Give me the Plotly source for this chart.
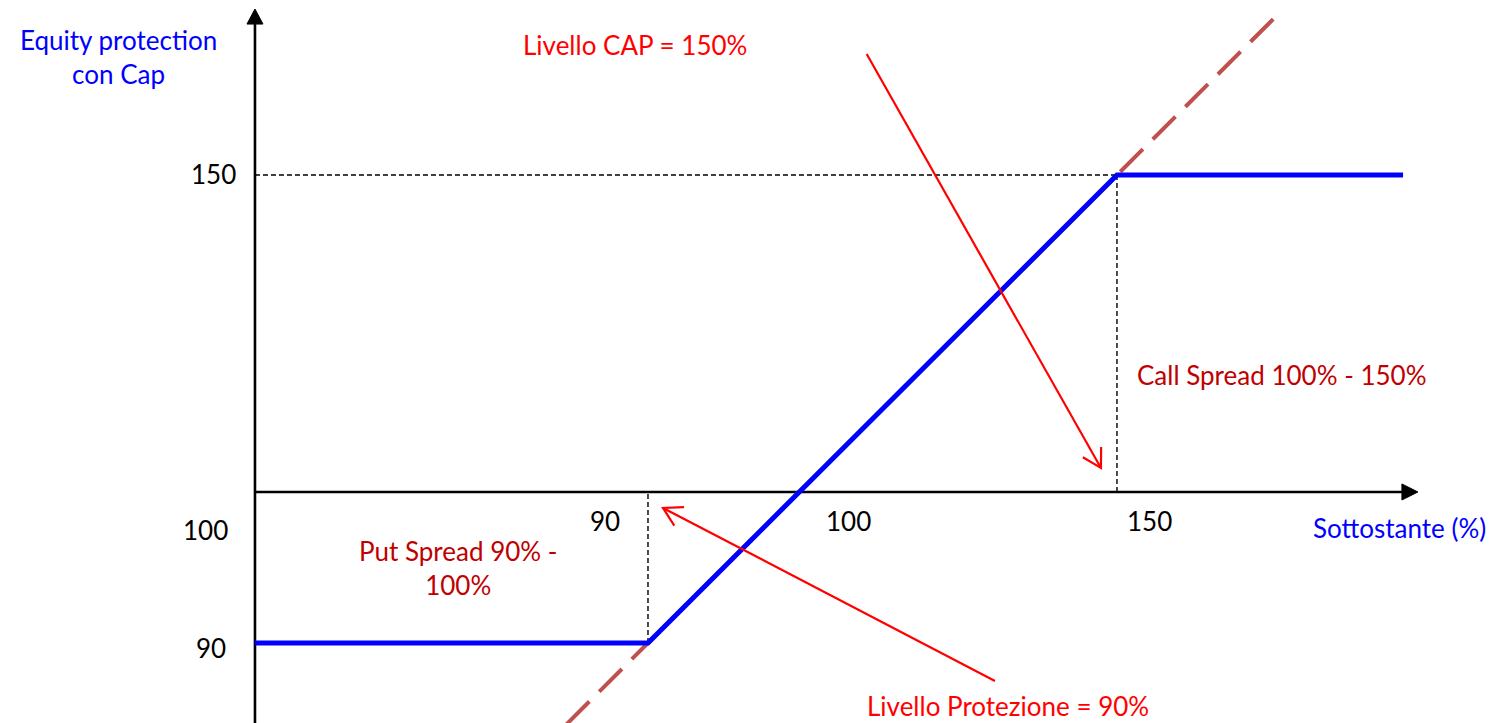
import numpy as np
import plotly.graph_objects as go

# ---------------- data ----------------
underlying = [39.7, 90, 150, 186.6]          # underlying level (%)
payoff = [90, 90, 150, 150]                  # equity protection with cap payoff
diag_underlying = [79.6, 170.4]              # 1:1 reference line (direct holding)
diag_payoff = [79.6, 170.4]
protection_level = 90
cap_level = 150
y_tick_labels = ["150", "100", "90"]
x_tick_labels = ["90", "100", "150"]

# ---------------- frame ----------------
W, H = 1496, 723
X0, X1 = 7.10, 198.49
Y0, Y1 = 79.74, 172.44
PX = W / (X1 - X0)   # pixels per x unit
PY = H / (Y1 - Y0)   # pixels per y unit

AXIS_X = 39.72       # position of the drawn vertical axis
AXIS_Y = 109.36      # position of the drawn horizontal axis

RED = "#FF0000"
DARKRED = "#C00000"
BLUE = "#0000FF"
FONT = "Lato"
FS = 26

fig = go.Figure()

def line(x, y, color, width, dash="solid", fill=None):
    fig.add_trace(go.Scatter(x=x, y=y, mode="lines",
                             line=dict(color=color, width=width, dash=dash),
                             fill=fill, fillcolor=color if fill else None,
                             hoverinfo="skip", showlegend=False))

# guide dashed lines
GD = "5px,3px"
line([AXIS_X, cap_level], [cap_level, cap_level], "black", 1.4, GD)
line([cap_level, cap_level], [AXIS_Y, cap_level], "black", 1.4, GD)
line([protection_level, protection_level], [protection_level, AXIS_Y], "black", 1.4, GD)

# axes
line([AXIS_X, AXIS_X], [Y0, 170.0], "black", 2.6)
line([AXIS_X, 187.0], [AXIS_Y, AXIS_Y], "black", 2.6)
# filled axis arrowheads (8px half width, 16px long)
hw_x, hw_y = 8 / PX, 8 / PY
tip_top = 171.28
line([AXIS_X - hw_x, AXIS_X, AXIS_X + hw_x, AXIS_X - hw_x],
     [tip_top - 15 / PY, tip_top, tip_top - 15 / PY, tip_top - 15 / PY], "black", 1, fill="toself")
tip_right = 188.5
line([tip_right - 16 / PX, tip_right, tip_right - 16 / PX, tip_right - 16 / PX],
     [AXIS_Y + hw_y, AXIS_Y, AXIS_Y - hw_y, AXIS_Y + hw_y], "black", 1, fill="toself")

# reference 1:1 line (dashed) and payoff
line(diag_underlying, diag_payoff, "#C0504D", 4, "32px,14px")
line(underlying, payoff, BLUE, 5)

# red pointer arrows with open heads
def arrow(x0, y0, x1, y1):
    line([x0, x1], [y0, y1], RED, 2.2)
    dx, dy = (x0 - x1) * PX, (y0 - y1) * PY
    n = np.hypot(dx, dy)
    ux, uy = dx / n, dy / n
    pts_x, pts_y = [], []
    for a in (np.radians(30), np.radians(-30)):
        rx = ux * np.cos(a) - uy * np.sin(a)
        ry = ux * np.sin(a) + uy * np.cos(a)
        pts_x.append(x1 + rx * 21 / PX)
        pts_y.append(y1 + ry * 21 / PY)
    line([pts_x[0], x1, pts_x[1]], [pts_y[0], y1, pts_y[1]], RED, 2.2)

arrow(117.98, 165.51, 147.95, 112.44)
arrow(134.39, 85.13, 91.92, 107.31)

# ---------------- texts ----------------
def text(x, y, s, color="black", size=FS):
    fig.add_annotation(x=x, y=y, text=s, showarrow=False, xanchor="center", yanchor="middle",
                       font=dict(family=FONT, size=size, color=color))

text(22.20, 165.13, "Equity protection<br>con Cap", BLUE)
text(186.20, 104.74, "Sottostante (%)", BLUE)
text(88.34, 166.67, "Livello CAP = 150%", RED)
text(136.06, 81.95, "Livello Protezione = 90%", RED)
text(171.11, 124.36, "Call Spread 100% - 150%", DARKRED)
text(65.69, 99.62, "Put Spread 90% -<br>100%", DARKRED)

for s, x, y in zip(y_tick_labels, [34.35, 33.33, 34.10], [150.13, 104.49, 89.36]):
    text(x, y, s)
for s, x, y in zip(x_tick_labels, [84.50, 115.59, 154.22], [105.64, 105.64, 105.64]):
    text(x, y, s)

fig.update_layout(
    width=W, height=H, margin=dict(l=0, r=0, t=0, b=0),
    paper_bgcolor="white", plot_bgcolor="white",
    xaxis=dict(range=[X0, X1], visible=False, fixedrange=True),
    yaxis=dict(range=[Y0, Y1], visible=False, fixedrange=True),
    showlegend=False,
)

fig.write_html("out.html", config={"displayModeBar": False},
               post_script="document.body.style.margin='0';document.body.style.overflow='hidden';")
